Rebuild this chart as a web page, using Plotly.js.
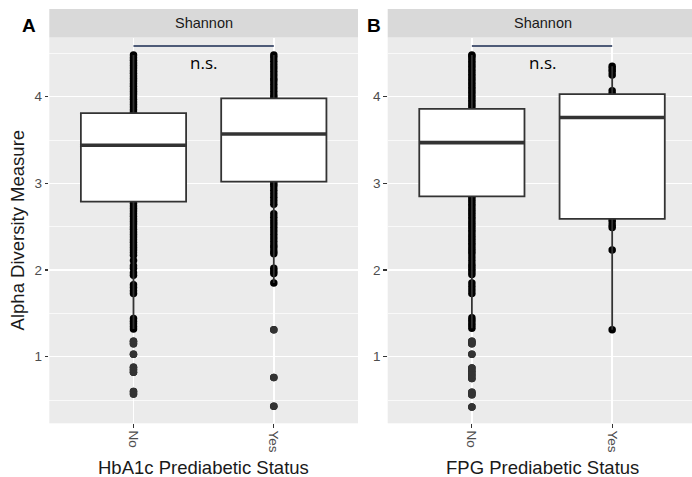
<!DOCTYPE html>
<html>
<head>
<meta charset="utf-8">
<script src="https://cdn.plot.ly/plotly-3.0.1.min.js"></script>
<style>html,body{margin:0;padding:0;background:#fff;}#chart{width:692px;height:477px;}</style>
</head>
<body>
<div id="chart"></div>
<script>
// ---- data ----
const categories = ['No', 'Yes'];
const panelLabels = ['A', 'B'];
const stripLabel = 'Shannon';
const xTitles = ['HbA1c Prediabetic Status', 'FPG Prediabetic Status'];
const yTitle = 'Alpha Diversity Measure';
const sigLabel = 'n.s.';

// Shannon values
const hba1cNo = [0.57, 0.60, 0.82, 0.85, 0.88, 1.03, 1.15, 1.18, 1.32, 1.35, 1.38, 1.41, 1.44,
  1.73, 1.76, 1.80, 1.83, 1.94, 1.97, 2.02, 2.05, 2.11, 2.17, 2.20, 2.23, 2.26, 2.29, 2.32, 2.35,
  2.38, 2.41, 2.44, 2.47, 2.50, 2.53, 2.56, 2.59, 2.62, 2.65, 2.68, 2.71, 2.74, 2.77, 2.80,
  2.95, 3.10, 3.25, 3.40, 3.55, 3.70, 3.82, 3.85, 3.88, 3.91, 3.94, 3.97, 4.00, 4.03, 4.06,
  4.09, 4.12, 4.15, 4.18, 4.21, 4.24, 4.27, 4.30, 4.33, 4.36, 4.39, 4.42, 4.45, 4.48];
const hba1cYes = [0.43, 0.76, 1.31, 1.85, 1.96, 1.99, 2.02, 2.19, 2.22, 2.26, 2.29, 2.33, 2.37,
  2.41, 2.45, 2.49, 2.53, 2.57, 2.61, 2.65, 2.76, 2.80, 2.84, 2.88, 2.92, 2.96, 2.99, 3.02,
  3.30, 3.60, 3.90, 3.99, 4.02, 4.06, 4.10, 4.14, 4.18, 4.21, 4.25, 4.29, 4.33, 4.37, 4.41,
  4.45, 4.48];
const fpgNo = [0.42, 0.56, 0.59, 0.75, 0.79, 0.83, 0.87, 1.03, 1.15, 1.18, 1.33, 1.36, 1.39,
  1.42, 1.45, 1.73, 1.77, 1.81, 1.85, 1.95, 1.98, 2.01, 2.04, 2.07, 2.11, 2.15, 2.19, 2.22,
  2.25, 2.28, 2.31, 2.34, 2.37, 2.40, 2.43, 2.46, 2.49, 2.52, 2.55, 2.58, 2.61, 2.64, 2.67,
  2.70, 2.73, 2.76, 2.79, 2.82, 2.85, 3.00, 3.20, 3.40, 3.60, 3.80, 3.87, 3.90, 3.93, 3.96,
  3.99, 4.02, 4.05, 4.08, 4.11, 4.14, 4.17, 4.20, 4.23, 4.26, 4.29, 4.32, 4.35, 4.38, 4.41,
  4.44, 4.47, 4.48];
const fpgYes = [1.31, 2.23, 2.49, 2.52, 2.56, 2.59, 3.10, 3.60, 3.76, 3.90, 4.03, 4.07, 4.25,
  4.29, 4.32, 4.35];

// box summaries (No, Yes)
const hba1cQ1 = [2.79, 3.02];
const hba1cMedian = [3.44, 3.57];
const hba1cQ3 = [3.81, 3.98];
const hba1cLowerWhisker = [1.32, 1.85];
const hba1cUpperWhisker = [4.48, 4.48];
const fpgQ1 = [2.85, 2.59];
const fpgMedian = [3.47, 3.76];
const fpgQ3 = [3.86, 4.03];
const fpgLowerWhisker = [1.33, 1.31];
const fpgUpperWhisker = [4.48, 4.35];

const bracketLevel = [4.585, 4.585];
const sigLabelLevel = [4.40, 4.40];

// ---- build ----
const pos = categories.map((c, i) => i + 1);
const boxW = 0.75;
const panels = [
  {pts: [hba1cNo, hba1cYes], q1: hba1cQ1, med: hba1cMedian, q3: hba1cQ3, lo: hba1cLowerWhisker, hi: hba1cUpperWhisker},
  {pts: [fpgNo, fpgYes], q1: fpgQ1, med: fpgMedian, q3: fpgQ3, lo: fpgLowerWhisker, hi: fpgUpperWhisker}
];

const traces = [];
panels.forEach((p, k) => {
  const xa = k === 0 ? 'x' : 'x2';
  const ya = k === 0 ? 'y' : 'y2';
  const px = [], py = [];
  p.pts.forEach((arr, i) => arr.forEach(v => { px.push(pos[i]); py.push(v); }));
  traces.push({
    type: 'box', x: px, y: py, xaxis: xa, yaxis: ya,
    boxpoints: 'all', jitter: 0, pointpos: 0, width: boxW,
    fillcolor: 'rgba(0,0,0,0)', line: {color: 'rgba(0,0,0,0)', width: 1}, whiskerwidth: 0,
    marker: {color: '#000000', size: 7.5}, hoverinfo: 'skip', showlegend: false
  });
  traces.push({
    type: 'box', x: pos, q1: p.q1, median: p.med, q3: p.q3,
    lowerfence: p.lo, upperfence: p.hi, xaxis: xa, yaxis: ya,
    boxpoints: false, width: boxW, whiskerwidth: 0,
    fillcolor: '#FFFFFF', line: {color: '#333333', width: 1.8},
    hoverinfo: 'skip', showlegend: false
  });
  const mx = [], my = [];
  pos.forEach((x, i) => { mx.push(x - boxW / 2, x + boxW / 2, null); my.push(p.med[i], p.med[i], null); });
  traces.push({type: 'scatter', mode: 'lines', x: mx, y: my, xaxis: xa, yaxis: ya,
    line: {color: '#333333', width: 3.6}, hoverinfo: 'skip', showlegend: false});
  const ox = [], oy = [];
  p.pts.forEach((arr, i) => arr.forEach(v => {
    if (v < p.lo[i] - 1e-9 || v > p.hi[i] + 1e-9) { ox.push(pos[i]); oy.push(v); }
  }));
  traces.push({type: 'scatter', mode: 'markers', x: ox, y: oy, xaxis: xa, yaxis: ya,
    marker: {color: '#333333', size: 7.5}, hoverinfo: 'skip', showlegend: false});
  traces.push({type: 'scatter', mode: 'lines', x: pos, y: bracketLevel, xaxis: xa, yaxis: ya,
    line: {color: '#4E5B78', width: 2}, hoverinfo: 'skip', showlegend: false});
});

const W = 692, H = 477;
const yDom = [(H - 423.3) / H, (H - 37.5) / H];
const xDomA = [49.3 / W, 358 / W];
const xDomB = [387.7 / W, 1];
const yRange = [0.232, 4.683];

function xAxis(dom, rng, anchor) {
  return {domain: dom, range: rng, anchor: anchor, tickmode: 'array', tickvals: pos, ticktext: categories,
    tickangle: 90, showgrid: true, gridcolor: '#FFFFFF', gridwidth: 1.4, zeroline: false, showline: false,
    ticks: 'outside', ticklen: 3.5, tickwidth: 1.1, tickcolor: '#333333',
    tickfont: {size: 13.5, color: '#4D4D4D'}, fixedrange: true};
}
function yAxis(anchor) {
  return {domain: yDom, range: yRange, anchor: anchor, tick0: 0, dtick: 1,
    showgrid: true, gridcolor: '#FFFFFF', gridwidth: 1.4, zeroline: false, showline: false,
    minor: {tick0: 0, dtick: 0.5, showgrid: true, gridcolor: '#FFFFFF', gridwidth: 0.7, ticks: ''},
    ticks: 'outside', ticklen: 3.5, tickwidth: 1.1, tickcolor: '#333333',
    tickfont: {size: 13.5, color: '#4D4D4D'}, fixedrange: true};
}

const stripY = [yDom[1], (H - 9) / H];
const shapes = [xDomA, xDomB].map(d => ({type: 'rect', xref: 'paper', yref: 'paper',
  x0: d[0], x1: d[1], y0: stripY[0], y1: stripY[1], fillcolor: '#D9D9D9', line: {width: 0}}));

const annotations = [];
[xDomA, xDomB].forEach((d, k) => {
  annotations.push({xref: 'paper', yref: 'paper', x: (k === 0 ? (d[0] + d[1]) / 2 : (387.7 + 698) / 2 / W),
    y: (stripY[0] + stripY[1]) / 2,
    text: stripLabel, showarrow: false, xanchor: 'center', yanchor: 'middle',
    font: {size: 14.5, color: '#1A1A1A'}});
  annotations.push({xref: k === 0 ? 'x' : 'x2', yref: k === 0 ? 'y' : 'y2',
    x: (pos[0] + pos[1]) / 2, y: sigLabelLevel[k], text: sigLabel, showarrow: false,
    xanchor: 'center', yanchor: 'middle', font: {family: 'Open Sans, sans-serif', size: 17, color: '#000000'}});
});
annotations.push({xref: 'paper', yref: 'paper', x: (xDomA[0] + xDomA[1]) / 2, y: 1 - 467 / H,
  text: xTitles[0], showarrow: false, xanchor: 'center', yanchor: 'middle', font: {size: 18.5, color: '#1A1A1A'}});
annotations.push({xref: 'paper', yref: 'paper', x: (387.7 + 698) / 2 / W, y: 1 - 467 / H,
  text: xTitles[1], showarrow: false, xanchor: 'center', yanchor: 'middle', font: {size: 18.5, color: '#1A1A1A'}});
annotations.push({xref: 'paper', yref: 'paper', x: 17 / W, y: (yDom[0] + yDom[1]) / 2,
  text: yTitle, textangle: -90, showarrow: false, xanchor: 'center', yanchor: 'middle', font: {size: 18.5, color: '#1A1A1A'}});
annotations.push({xref: 'paper', yref: 'paper', x: 29 / W, y: 1 - 25.5 / H, text: '<b>' + panelLabels[0] + '</b>',
  showarrow: false, xanchor: 'center', yanchor: 'middle', font: {size: 19, color: '#000000'}});
annotations.push({xref: 'paper', yref: 'paper', x: 374 / W, y: 1 - 25.5 / H, text: '<b>' + panelLabels[1] + '</b>',
  showarrow: false, xanchor: 'center', yanchor: 'middle', font: {size: 19, color: '#000000'}});

const layout = {
  width: W, height: H, margin: {l: 0, r: 0, t: 0, b: 0},
  paper_bgcolor: '#FFFFFF', plot_bgcolor: '#EBEBEB',
  font: {family: 'Liberation Sans, Arial, sans-serif', color: '#1A1A1A'},
  boxmode: 'overlay', showlegend: false, hovermode: false,
  xaxis: xAxis(xDomA, [0.4, 2.6], 'y'),
  yaxis: yAxis('x'),
  xaxis2: xAxis(xDomB, [0.4, 2.569], 'y2'),
  yaxis2: yAxis('x2'),
  shapes: shapes, annotations: annotations
};

Plotly.newPlot('chart', traces, layout, {staticPlot: true, displayModeBar: false});
</script>
</body>
</html>
